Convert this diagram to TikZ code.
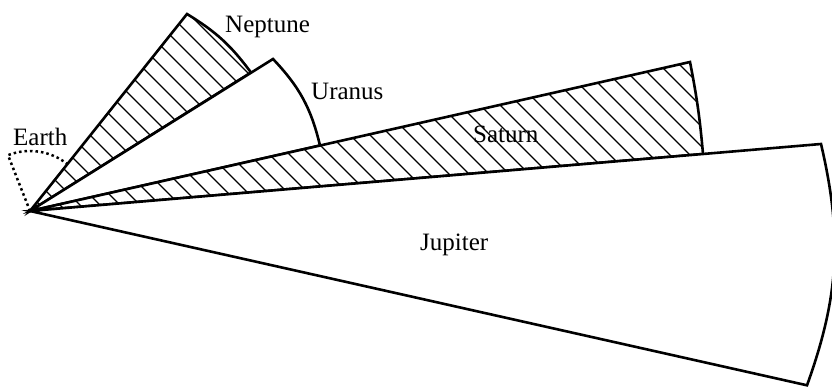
\documentclass[tikz,border=0pt]{standalone}
\usepackage{fontspec}
\setmainfont{Liberation Serif}
\begin{document}
\begin{tikzpicture}[x=1pt,y=1pt,
  outline/.style={line width=2.6pt, line join=miter, line cap=butt},
  hatchline/.style={line width=1.1pt},
  earthline/.style={line width=2.5pt, dash pattern=on 2.5pt off 3pt},
  lbl/.style={font=\fontsize{25}{30}\selectfont, inner sep=0pt, anchor=base west}]
\useasboundingbox (0,0) rectangle (832,386);
\coordinate (A) at (30,175);
\coordinate (N1) at (187,372);
\coordinate (N2) at (251,313.5);
\coordinate (U1) at (273,327);
\coordinate (U2) at (320,240.5);
\coordinate (S1) at (690,324);
\coordinate (S2) at (703,232);
\coordinate (J1) at (821,242);
\coordinate (J2) at (807,0.7);
% Earth
\draw[earthline] (A) -- ++(111.5:60) arc[start angle=111.5, end angle=52, radius=60];
% Neptune
\fill[white] (A) -- (N1) to[bend left=11] (N2) -- cycle;
\begin{scope}
  \clip (A) -- (N1) to[bend left=11] (N2) -- cycle;
  \foreach \c in {201,221,...,1041} \draw[hatchline] (\c-400,400) -- (\c+400,-400);
\end{scope}
\draw[outline] (A) -- (N1) to[bend left=11] (N2) -- cycle;
% Uranus
\filldraw[outline, fill=white] (A) -- (U1) to[bend left=15] (U2) -- cycle;
% Saturn
\fill[white] (A) -- (S1) to[bend left=3] (S2) -- cycle;
\begin{scope}
  \clip (A) -- (S1) to[bend left=3] (S2) -- cycle;
  \foreach \c in {201,221,...,1041} \draw[hatchline] (\c-400,400) -- (\c+400,-400);
\end{scope}
\draw[outline] (A) -- (S1) to[bend left=3] (S2) -- cycle;
% Jupiter
\filldraw[outline, fill=white] (A) -- (J1) to[bend left=16.5] (J2) -- cycle;
% labels
\node[lbl] (tN) at (225,353) {Neptune};
\node[lbl] (tU) at (311,286) {Uranus};
\node[lbl] (tE) at (13,240) {Earth};
\node[lbl] (tS) at (473,243) {Saturn};
\node[lbl] (tJ) at (420,136) {Jupiter};
\end{tikzpicture}
\end{document}
